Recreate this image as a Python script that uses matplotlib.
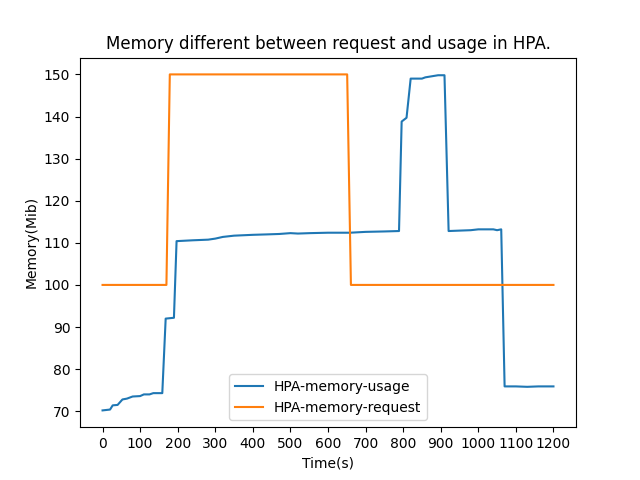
import numpy as np
import matplotlib
matplotlib.use("Agg")
import matplotlib.pyplot as plt

# usage samples (time in s, memory in Mib)
usage_t = [0, 20, 27, 40, 53, 65, 80, 100, 110, 125, 135, 159, 168, 190, 197,
           240, 281, 300, 320, 350, 400, 437, 470, 500, 520, 552, 600, 659,
           700, 750, 789, 796, 809, 820, 850, 859, 893, 910, 921, 950, 980,
           1000, 1040, 1050, 1061, 1070, 1100, 1130, 1160, 1200]
usage_mem = [70.2, 70.4, 71.4, 71.5, 72.8, 73.0, 73.5, 73.6, 74.0, 74.0, 74.3,
             74.3, 92.0, 92.2, 110.4, 110.6, 110.75, 111.0, 111.4, 111.7,
             111.9, 112.0, 112.1, 112.3, 112.2, 112.3, 112.4, 112.4, 112.6,
             112.7, 112.8, 138.8, 139.7, 149.0, 149.0, 149.3, 149.8, 149.8,
             112.8, 112.9, 113.0, 113.2, 113.2, 113.0, 113.2, 75.9, 75.9,
             75.8, 75.9, 75.9]

request_t = [0, 170, 179, 651, 661, 1200]
request_mem = [100, 100, 150, 150, 100, 100]

fig, ax = plt.subplots(figsize=(6.4, 4.8), dpi=100)
ax.plot(usage_t, usage_mem, label="HPA-memory-usage")
ax.plot(request_t, request_mem, label="HPA-memory-request")
ax.set_xticks(np.arange(0, 1201, 100))
ax.set_title("Memory different between request and usage in HPA.")
ax.set_xlabel("Time(s)")
ax.set_ylabel("Memory(Mib)")
ax.legend(loc="lower center")
fig.savefig("out.png")
